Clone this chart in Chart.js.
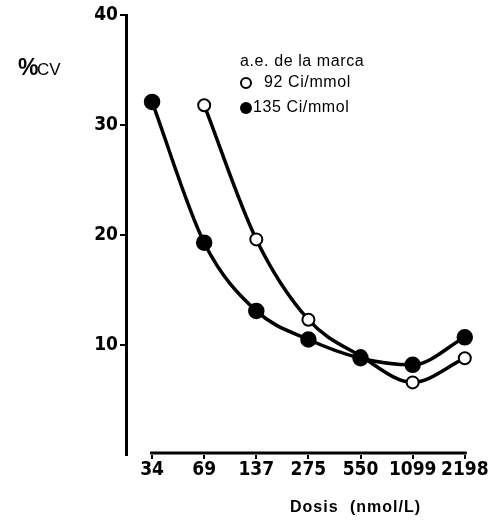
<!DOCTYPE html>
<html>
<head>
<meta charset="utf-8">
<script src="https://cdn.jsdelivr.net/npm/chart.js@4"></script>
<style>
  html, body { margin: 0; padding: 0; background: #fff; }
  canvas { display: block; }
</style>
</head>
<body>
<canvas id="cvChart" width="489" height="525"></canvas>
<script>
// Dose levels (nmol/L) shown on the x axis
const doses = ['34', '69', '137', '275', '550', '1099', '2198'];
// %CV for each tracer specific activity
const cv92 = [null, 31.8, 19.6, 12.3, 9.0, 6.6, 8.8];
const cv135 = [32.1, 19.3, 13.1, 10.5, 8.8, 8.2, 10.7];
const yTicks = [10, 20, 30, 40];

const tickFont = { family: '"Liberation Sans Narrow", "DejaVu Sans Condensed", Arial, sans-serif', size: 19, weight: 'bold' };
const textFont = 'Arial, "Liberation Sans", sans-serif';

function toPoints(vals) {
  return vals.map((v, i) => ({ x: i, y: v }));
}

// Extra labels: y title, legend box, x title, and the short x axis line
const annotations = {
  id: 'annotations',
  afterDraw(chart) {
    const c = chart.ctx;
    const xs = chart.scales.x, ys = chart.scales.y;
    c.save();
    c.fillStyle = '#000';
    c.strokeStyle = '#000';

    // x axis line only spans the dose ticks
    c.lineWidth = 3;
    const yb = ys.getPixelForValue(0) - 2;
    c.beginPath();
    c.moveTo(xs.getPixelForValue(0) - 2, yb);
    c.lineTo(xs.getPixelForValue(doses.length - 1) + 2, yb);
    c.stroke();

    // %CV
    c.textBaseline = 'middle';
    c.font = 'bold 23px ' + textFont;
    c.fillText('%', 18, 69);
    c.font = '17px ' + textFont;
    c.fillText('CV', 37, 70);

    // legend
    c.font = '16px ' + textFont;
    c.letterSpacing = '0.6px';
    c.fillText('a.e. de la marca', 240, 62);
    c.lineWidth = 2;
    c.beginPath();
    c.arc(246, 83, 5, 0, Math.PI * 2);
    c.fillStyle = '#fff';
    c.fill();
    c.stroke();
    c.fillStyle = '#000';
    c.fillText('92 Ci/mmol', 264, 83);
    c.beginPath();
    c.arc(246, 108, 6, 0, Math.PI * 2);
    c.fill();
    c.fillText('135 Ci/mmol', 253, 108);

    // x title
    c.font = 'bold 16px ' + textFont;
    c.letterSpacing = '1px';
    c.fillText('Dosis', 290, 508);
    c.fillText('(nmol/L)', 350, 508);
    c.restore();
  }
};

const ctx = document.getElementById('cvChart').getContext('2d');
const cvChart = new Chart(ctx, {
  type: 'line',
  data: {
    datasets: [{
      label: '135 Ci/mmol',
      data: toPoints(cv135),
      borderColor: '#000',
      borderWidth: 3.5,
      backgroundColor: '#000',
      pointBackgroundColor: '#000',
      pointBorderColor: '#000',
      pointRadius: 6.5,
      tension: 0.4,
      cubicInterpolationMode: 'monotone',
      clip: false,
      order: 1
    }, {
      label: '92 Ci/mmol',
      data: toPoints(cv92),
      borderColor: '#000',
      borderWidth: 3.5,
      backgroundColor: '#fff',
      pointBackgroundColor: '#fff',
      pointBorderColor: '#000',
      pointBorderWidth: 2,
      pointRadius: 6,
      tension: 0.4,
      cubicInterpolationMode: 'monotone',
      clip: false,
      order: 2
    }]
  },
  options: {
    responsive: false,
    animation: false,
    layout: { padding: { left: 0, top: 15, right: 19, bottom: 0 } },
    plugins: { legend: { display: false }, tooltip: { enabled: false } },
    scales: {
      x: {
        type: 'linear',
        min: -0.5,
        max: 6.1,
        afterFit: s => { s.height = 70; },
        afterBuildTicks: s => { s.ticks = doses.map((d, i) => ({ value: i })); },
        border: { display: false },
        grid: { drawOnChartArea: false, drawTicks: true, tickLength: 4, color: '#000', lineWidth: 2 },
        ticks: {
          color: '#000',
          font: tickFont,
          padding: 0,
          maxRotation: 0,
          autoSkip: false,
          callback: v => doses[v]
        }
      },
      y: {
        min: 0,
        max: 40,
        afterFit: s => { s.width = 126; },
        afterBuildTicks: s => { s.ticks = yTicks.map(v => ({ value: v })); },
        border: { display: true, color: '#000', width: 3 },
        grid: { drawOnChartArea: false, drawTicks: true, tickLength: 6, color: '#000', lineWidth: 2 },
        ticks: { color: '#000', font: tickFont, padding: 2 }
      }
    }
  },
  plugins: [annotations]
});
</script>
</body>
</html>
